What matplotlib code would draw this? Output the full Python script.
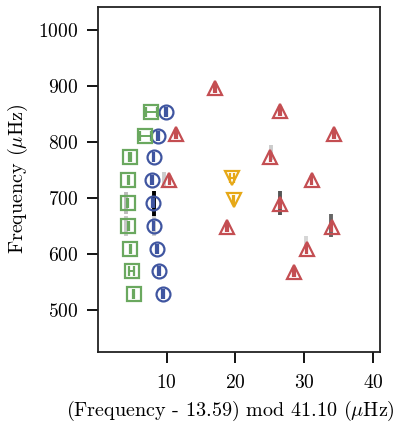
import matplotlib
matplotlib.use("Agg")
import matplotlib.pyplot as plt

plt.rcParams['font.family'] = ['cmr10', 'DejaVu Serif']
plt.rcParams['mathtext.fontset'] = 'cm'
plt.rcParams['axes.formatter.use_mathtext'] = True

dnu = 41.10
offset = 13.59

# l=0 modes (blue circles)
l0_x = [9.91, 8.69, 8.10, 7.87, 7.96, 8.10, 8.54, 8.83, 9.52]
l0_y = [853, 811, 773, 732, 690.5, 650.5, 609.5, 569, 528.6]
l0_xerr = [0.15, 0.15, 0.12, 0.12, 0.12, 0.12, 0.12, 0.12, 0.15]

# l=2 modes (green squares)
l2_x = [7.72, 6.89, 4.66, 4.41, 4.31, 4.41, 4.70, 4.89, 5.18]
l2_y = [853, 811, 773, 732, 690.5, 650.5, 609.5, 569, 528.6]
l2_xerr = [0.8, 0.8, 0.1, 0.1, 0.12, 0.1, 0.1, 0.35, 0.1]

# l=1 modes (red triangles)
l1_x = [16.96, 26.55, 11.37, 34.34, 25.09, 10.39, 31.08, 26.45, 18.76, 34.0, 30.35, 28.54]
l1_y = [896, 855.4, 814.3, 814.3, 773.8, 732, 732, 689, 648.8, 648.8, 608.4, 568.4]
l1_xerr = [0.15, 0.15, 0.15, 0.12, 0.12, 0.12, 0.12, 0.12, 0.12, 0.12, 0.12, 0.12]

# l=3 modes (yellow triangles)
l3_x = [19.49, 19.74]
l3_y = [735, 696]
l3_xerr = [0.35, 0.12]

# dark streaks of the background power image
streak_x = [8.2, 26.55, 33.85, 25.1, 4.1, 4.1, 9.6, 30.3, 8.2]
streak_lo = [668, 670, 630, 768, 671, 632, 720, 612, 632]
streak_hi = [712, 712, 672, 795, 710, 668, 746, 632, 668]
streak_col = ['black', '#555555', '#666666', '#cccccc', '#bbbbbb', '#c8c8c8', '#cccccc', '#d5d5d5', '#d0d0d0']

fig = plt.figure(figsize=(4.14, 4.24), dpi=100)
ax = fig.add_axes([0.2367, 0.1698, 0.919 - 0.2367, 0.9835 - 0.1698])

ax.vlines(streak_x, streak_lo, streak_hi, colors=streak_col, linewidth=2.8, zorder=1)

series = [
    (l0_x, l0_y, l0_xerr, 'o', '#3f55a0', 10),
    (l2_x, l2_y, l2_xerr, 's', '#6aa85f', 10.5),
    (l1_x, l1_y, l1_xerr, '^', '#c44e52', 10.5),
    (l3_x, l3_y, l3_xerr, 'v', '#e6a817', 10.5),
]
for xs, ys, xe, mk, col, ms in series:
    ax.errorbar(xs, ys, xerr=xe, fmt=mk, ms=ms, mfc='none', mec=col, mew=1.6,
                ecolor=col, elinewidth=1.4, capsize=3.5, capthick=1.4, zorder=3)

ax.set_xlim(0, dnu)
ax.set_ylim(425, 1041)
ax.set_xticks([10, 20, 30, 40])
ax.set_yticks([500, 600, 700, 800, 900, 1000])
ax.tick_params(length=8, width=1.3, labelsize=14)
ax.tick_params(axis='y', pad=6)
ax.tick_params(axis='x', pad=8)
for s in ax.spines.values():
    s.set_linewidth(1.3)
    s.set_color('#222222')

ax.set_xlabel(r'(Frequency - %.2f) mod %.2f ($\mu$Hz)' % (offset, dnu), fontsize=14.5)
ax.xaxis.set_label_coords(0.468, -0.135)
ax.set_ylabel(r'Frequency ($\mu$Hz)', fontsize=14.5, labelpad=6)

fig.savefig('out.png', dpi=100)
